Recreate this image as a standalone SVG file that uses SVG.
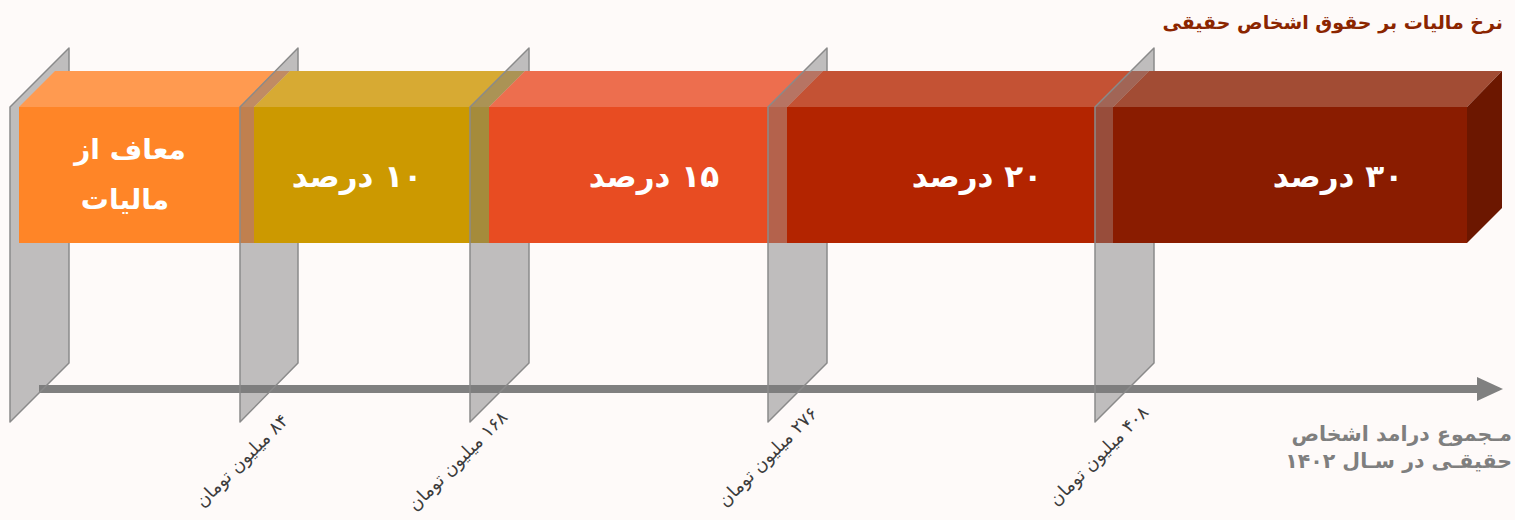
<svg xmlns="http://www.w3.org/2000/svg" width="1515" height="520" viewBox="0 0 1515 520">
<style>
.panel{fill:#7c7c7c;fill-opacity:0.48;stroke:#8a8a8a;stroke-width:1.5;stroke-linejoin:round}
.lbl{font-family:"DejaVu Sans",sans-serif;font-weight:bold;fill:#ffffff;font-size:31px}
.lbl1{font-family:"DejaVu Sans",sans-serif;font-weight:bold;fill:#ffffff;font-size:28px}
.tick{font-family:"DejaVu Sans",sans-serif;fill:#3c3c3c;font-size:18px}
.title{font-family:"DejaVu Sans",sans-serif;font-weight:bold;fill:#8b2500;font-size:19px}
.axis-t{font-family:"DejaVu Sans",sans-serif;font-weight:bold;fill:#7f7f7f;font-size:20.5px}
</style>
<rect x="0" y="0" width="1515" height="520" fill="#fefaf9"/>
<g id="connectors">
<line x1="39" y1="389" x2="1480" y2="389" stroke="#808080" stroke-width="8"/>
<polygon points="1477,377 1503,389 1477,401" fill="#808080"/>
</g>
<g id="panel1"><polygon class="panel" points="10,107 69,48 69,363 10,422"/></g>
<g id="box1">
<polygon points="19,107 55,71 290,71 254,107" fill="#ff9a50"/>
<rect x="19" y="107" width="235" height="136" fill="#ff8527"/>
<text class="lbl1" direction="rtl" text-anchor="middle" x="130" y="159">معاف از</text>
<text class="lbl1" direction="rtl" text-anchor="middle" x="125" y="209">مالیات</text>
</g>
<g id="panel2"><polygon class="panel" points="240,107 298,48 298,363 240,422"/></g>
<g id="box2">
<polygon points="254,107 290,71 525,71 489,107" fill="#d7aa33"/>
<rect x="254" y="107" width="235" height="136" fill="#cc9900"/>
<text class="lbl" direction="rtl" text-anchor="middle" x="357" y="187">۱۰ درصد</text>
</g>
<g id="panel3"><polygon class="panel" points="470,107 529,48 529,363 470,422"/></g>
<g id="box3">
<polygon points="489,107 525,71 823,71 787,107" fill="#ed6e4e"/>
<rect x="489" y="107" width="298" height="136" fill="#e84c22"/>
<text class="lbl" direction="rtl" text-anchor="middle" x="654" y="187">۱۵ درصد</text>
</g>
<g id="panel4"><polygon class="panel" points="768,107 827,48 827,363 768,422"/></g>
<g id="box4">
<polygon points="787,107 823,71 1149,71 1113,107" fill="#c45234"/>
<rect x="787" y="107" width="326" height="136" fill="#b32400"/>
<text class="lbl" direction="rtl" text-anchor="middle" x="977" y="187">۲۰ درصد</text>
</g>
<g id="panel5"><polygon class="panel" points="1095,107 1154,48 1154,363 1095,422"/></g>
<g id="box5">
<polygon points="1113,107 1149,71 1502,71 1467,107" fill="#a24c34"/>
<rect x="1113" y="107" width="354" height="136" fill="#8a1c00"/>
<polygon points="1467,107 1502,71 1502,208 1467,243" fill="#6c1700"/>
<text class="lbl" direction="rtl" text-anchor="middle" x="1338" y="187">۳۰ درصد</text>
</g>
<g id="tick-labels">
<text class="tick" direction="rtl" text-anchor="middle" transform="translate(246,465) rotate(-45)">۸۴ میلیون تومان</text>
<text class="tick" direction="rtl" text-anchor="middle" transform="translate(462,465) rotate(-45)">۱۶۸ میلیون تومان</text>
<text class="tick" direction="rtl" text-anchor="middle" transform="translate(772,461) rotate(-45)">۲۷۶ میلیون تومان</text>
<text class="tick" direction="rtl" text-anchor="middle" transform="translate(1103,460) rotate(-45)">۴۰۸ میلیون تومان</text>
</g>
<g id="title">
<text class="title" direction="rtl" text-anchor="start" x="1503" y="29">نرخ مالیات بر حقوق اشخاص حقیقی</text>
</g>
<g id="axis-label">
<text class="axis-t" direction="rtl" text-anchor="start" x="1512" y="441">مـجموع درامد اشخاص</text>
<text class="axis-t" direction="rtl" text-anchor="start" x="1512" y="468">حقیقـی در سـال ۱۴۰۲</text>
</g>
</svg>
